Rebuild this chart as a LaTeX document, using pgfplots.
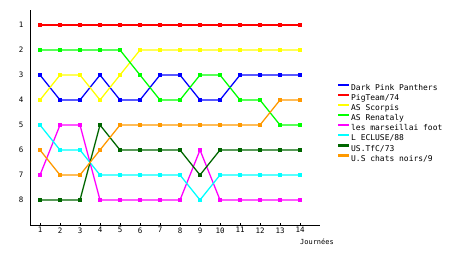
\documentclass[border=0pt]{standalone}
\usepackage{fontspec}
\setmainfont{DejaVu Sans Mono}
\usepackage{pgfplots}
\pgfplotsset{compat=1.18}
\definecolor{cBlue}{RGB}{0,0,255}
\definecolor{cRed}{RGB}{255,0,0}
\definecolor{cYellow}{RGB}{255,255,0}
\definecolor{cGreen}{RGB}{0,255,0}
\definecolor{cMag}{RGB}{255,0,255}
\definecolor{cCyan}{RGB}{0,255,255}
\definecolor{cDGreen}{RGB}{0,102,0}
\definecolor{cOrange}{RGB}{255,153,0}
\begin{document}
\begin{tikzpicture}[x=1bp,y=1bp]
\useasboundingbox (0,0) rectangle (460,255);
\begin{axis}[
  at={(30bp,30bp)}, anchor=south west,
  scale only axis, width=290bp, height=215bp,
  xmin=0.5, xmax=15, ymin=0.4, ymax=9,
  y dir=reverse,
  axis x line*=bottom, axis y line*=left,
  axis line style={-, line width=1bp, black},
  xtick={1,...,14}, ytick={1,...,8},
  x tick style={black, line width=0.8bp},
  major tick length=2.5bp,
  xtick pos=bottom,
  ytick style={draw=none},
  tick label style={font=\fontsize{7.5}{8}\selectfont},
  /pgf/number format/assume math mode=true,
  yticklabel style={xshift=-3bp},
  xticklabel style={yshift=1bp},
  every axis plot/.append style={line width=1.3bp, mark=square*, mark size=1.1bp},
  legend style={at={(rel axis cs:1.062,0.665)}, anchor=north west, draw=none, fill=none,
    font=\fontsize{8}{9}\selectfont, row sep=-1.4bp, inner sep=0pt},
  legend cell align=left,
  legend image code/.code={\fill[#1, mark=none, draw=none] (0bp,2.2bp) rectangle (11bp,4.4bp);},
  clip=false,
]
\addplot[cBlue] coordinates {(1,3)(2,4)(3,4)(4,3)(5,4)(6,4)(7,3)(8,3)(9,4)(10,4)(11,3)(12,3)(13,3)(14,3)};
\addlegendentry{Dark Pink Panthers}
\addplot[cRed] coordinates {(1,1)(2,1)(3,1)(4,1)(5,1)(6,1)(7,1)(8,1)(9,1)(10,1)(11,1)(12,1)(13,1)(14,1)};
\addlegendentry{PigTeam/74}
\addplot[cYellow] coordinates {(1,4)(2,3)(3,3)(4,4)(5,3)(6,2)(7,2)(8,2)(9,2)(10,2)(11,2)(12,2)(13,2)(14,2)};
\addlegendentry{AS Scorpis}
\addplot[cGreen] coordinates {(1,2)(2,2)(3,2)(4,2)(5,2)(6,3)(7,4)(8,4)(9,3)(10,3)(11,4)(12,4)(13,5)(14,5)};
\addlegendentry{AS Renataly}
\addplot[cMag] coordinates {(1,7)(2,5)(3,5)(4,8)(5,8)(6,8)(7,8)(8,8)(9,6)(10,8)(11,8)(12,8)(13,8)(14,8)};
\addlegendentry{les marseillai foot}
\addplot[cCyan] coordinates {(1,5)(2,6)(3,6)(4,7)(5,7)(6,7)(7,7)(8,7)(9,8)(10,7)(11,7)(12,7)(13,7)(14,7)};
\addlegendentry{L ECLUSE/88}
\addplot[cDGreen] coordinates {(1,8)(2,8)(3,8)(4,5)(5,6)(6,6)(7,6)(8,6)(9,7)(10,6)(11,6)(12,6)(13,6)(14,6)};
\addlegendentry{US.TfC/73}
\addplot[cOrange] coordinates {(1,6)(2,7)(3,7)(4,6)(5,5)(6,5)(7,5)(8,5)(9,5)(10,5)(11,5)(12,5)(13,4)(14,4)};
\addlegendentry{U.S chats noirs/9}
\end{axis}
\node[anchor=west, font=\fontsize{7}{8}\selectfont, inner sep=0pt] at (300,13) {Journées};
\end{tikzpicture}
\end{document}
